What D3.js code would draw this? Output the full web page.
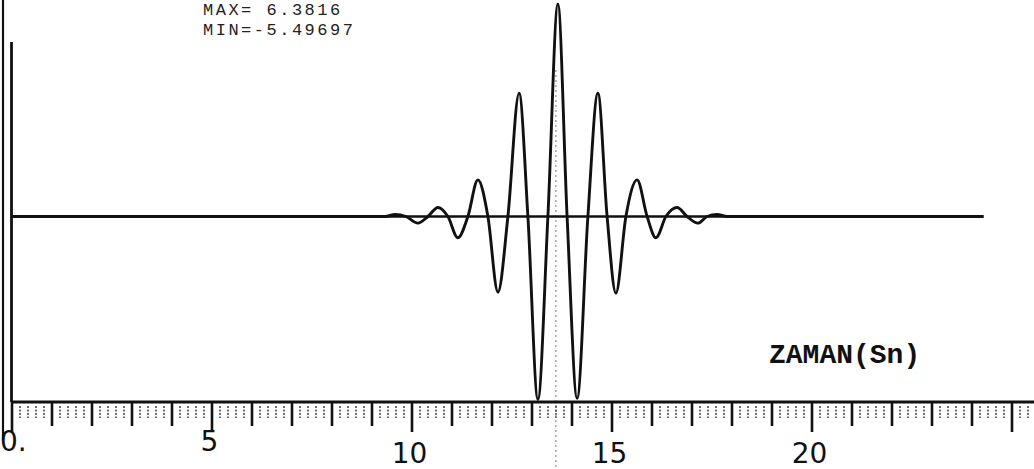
<!DOCTYPE html>
<html>
<head>
<meta charset="utf-8">
<script src="https://cdn.jsdelivr.net/npm/d3@7"></script>
<style>
  html, body { margin: 0; padding: 0; background: #fff; }
  svg { display: block; }
</style>
</head>
<body>
<svg id="chart" width="1034" height="469"></svg>
<script>
// Wavelet samples: time (s) at each extremum / zero crossing, and amplitude there
const timeSec = [0, 9.34, 9.59, 9.86, 10.16, 10.41, 10.66, 10.91, 11.16, 11.41, 11.66, 11.91,
  12.16, 12.41, 12.69, 12.91, 13.16, 13.41, 13.66, 13.89, 14.14, 14.41, 14.66, 14.89,
  15.11, 15.36, 15.64, 15.89, 16.11, 16.36, 16.64, 16.89, 17.16, 17.39, 17.64, 17.89, 24.3];
const amplitude = [0, 0, 0.06, 0, -0.2, 0, 0.27, 0, -0.64, 0, 1.1, 0,
  -2.27, 0, 3.7, 0, -5.49697, 0, 6.3816, 0, -5.46, 0, 3.7, 0,
  -2.3, 0, 1.1, 0, -0.64, 0, 0.27, 0, -0.2, 0, 0.06, 0, 0];

// Axis ticks
const majorTicks = d3.range(0, 26, 1);
const minorTicks = d3.range(0, 25.81, 0.2).filter(t => Math.abs(t - Math.round(t)) > 1e-6);
const tickLabels = [
  { t: 0, text: "0." },
  { t: 5, text: "5" },
  { t: 10, text: "10" },
  { t: 15, text: "15" },
  { t: 20, text: "20" }
];
const statsLines = ["MAX= 6.3816", "MIN=-5.49697"];
const axisTitle = "ZAMAN(Sn)";
const centreTime = 13.61;

const svg = d3.select("#chart");

const x = d3.scaleLinear().domain([0, 25]).range([11.5, 1011.5]);
const y = d3.scaleLinear().domain([0, 6.3816]).range([216.5, 4]);
const axisY = 402;

// page frame line and y axis
svg.append("line").attr("x1", 3).attr("x2", 3).attr("y1", 0).attr("y2", 440)
  .attr("stroke", "#111").attr("stroke-width", 2.2);
svg.append("line").attr("x1", x(0)).attr("x2", x(0)).attr("y1", 42).attr("y2", axisY)
  .attr("stroke", "#111").attr("stroke-width", 2.8);

// dotted centre marker
svg.append("line").attr("x1", x(centreTime)).attr("x2", x(centreTime))
  .attr("y1", 70).attr("y2", 469)
  .attr("stroke", "#777").attr("stroke-width", 1).attr("stroke-dasharray", "2,3");

// zero line
svg.append("line").attr("x1", x(0)).attr("x2", x(24.3)).attr("y1", y(0)).attr("y2", y(0))
  .attr("stroke", "#111").attr("stroke-width", 2.4);

// signal
const line = d3.line().x((d, i) => x(timeSec[i])).y(d => y(d)).curve(d3.curveMonotoneX);
svg.append("path").datum(amplitude).attr("d", line)
  .attr("fill", "none").attr("stroke", "#111").attr("stroke-width", 2.9)
  .attr("stroke-linejoin", "round");

// time axis
const axis = d3.axisBottom(x).tickValues(majorTicks).tickFormat("")
  .tickSize(24).tickSizeOuter(0);
const gAxis = svg.append("g").attr("transform", `translate(0,${axisY})`).call(axis);
gAxis.select(".domain").attr("stroke", "#111").attr("stroke-width", 2.8)
  .attr("d", `M${x(0)},0H1034`);
gAxis.selectAll(".tick line").attr("stroke", "#111").attr("stroke-width", 2.6)
  .attr("y2", d => d % 5 === 0 ? 30 : 24);

const minorAxis = d3.axisBottom(x).tickValues(minorTicks).tickFormat("").tickSize(12).tickSizeOuter(0);
const gMinor = svg.append("g").attr("transform", `translate(0,${axisY + 4})`).call(minorAxis);
gMinor.select(".domain").remove();
gMinor.selectAll(".tick line").attr("stroke", "#333").attr("stroke-width", 1.4)
  .attr("stroke-dasharray", "2,1.5");

// tick labels
svg.append("g").selectAll("text").data(tickLabels).join("text")
  .attr("x", d => d.t === 0 ? 0 : x(d.t) - 2)
  .attr("y", d => d.t < 10 ? 451 : 463)
  .attr("text-anchor", d => d.t === 0 ? "start" : "middle")
  .attr("font-family", "'DejaVu Sans', sans-serif")
  .attr("font-size", 28)
  .attr("fill", "#111")
  .text(d => d.text);

// max / min readout
svg.append("g").selectAll("text").data(statsLines).join("text")
  .attr("x", 203).attr("y", (d, i) => 15 + i * 20)
  .attr("font-family", "'Liberation Mono', 'DejaVu Sans Mono', monospace")
  .attr("font-size", 17)
  .attr("letter-spacing", 2.5)
  .attr("fill", "#222")
  .text(d => d);

// axis title
svg.append("text").attr("x", 769).attr("y", 363)
  .attr("font-family", "'Courier New', 'Liberation Mono', monospace")
  .attr("font-weight", "bold")
  .attr("font-size", 28)
  .attr("fill", "#111")
  .text(axisTitle);
</script>
</body>
</html>
